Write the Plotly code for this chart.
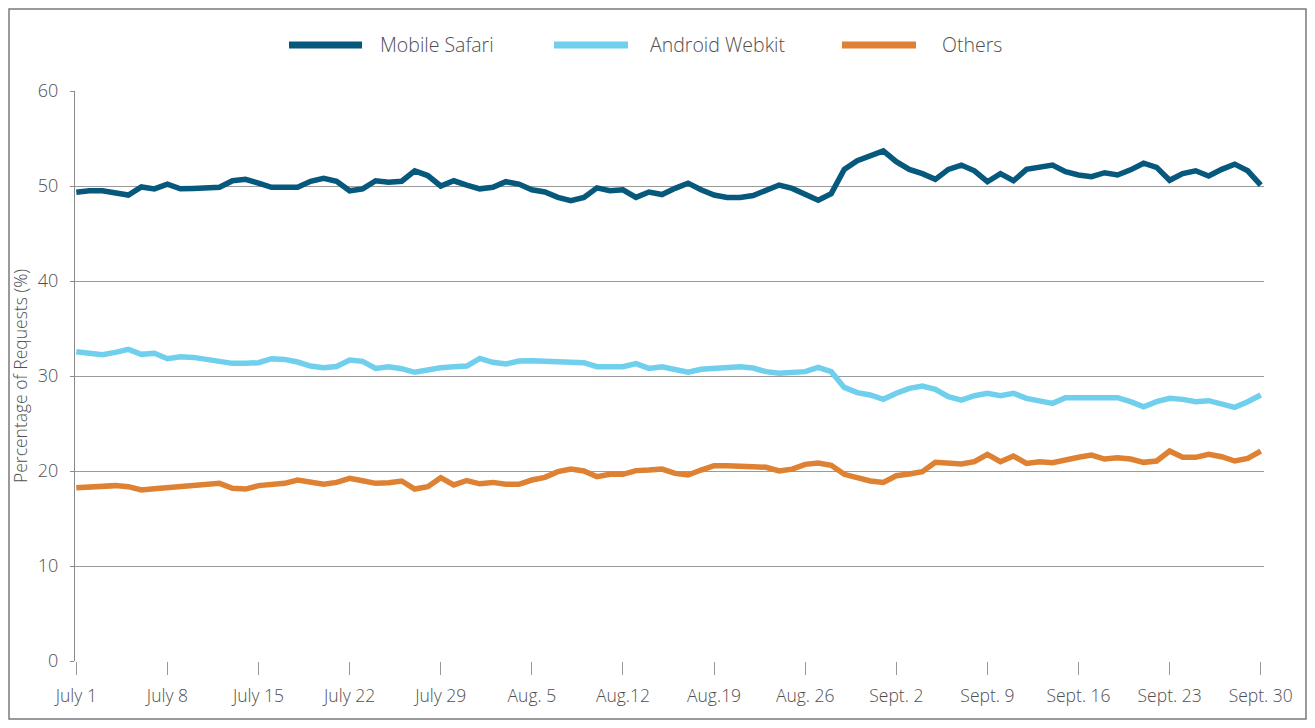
import plotly.graph_objects as go

days = list(range(92))

tick_days = [0, 7, 14, 21, 28, 35, 42, 49, 56, 63, 70, 77, 84, 91]
tick_labels = ["July 1", "July 8", "July 15", "July 22", "July 29", "Aug. 5", "Aug.12",
               "Aug.19", "Aug. 26", "Sept. 2", "Sept. 9", "Sept. 16", "Sept. 23", "Sept. 30"]

mobile_safari = [49.34, 49.5, 49.5, 49.3, 49.05, 49.9, 49.7, 50.2, 49.7, 49.75, 49.8, 49.86,
                 50.55, 50.7, 50.3, 49.86, 49.86, 49.86, 50.5, 50.8, 50.5, 49.5, 49.7, 50.55,
                 50.4, 50.5, 51.6, 51.1, 50.0, 50.55, 50.1, 49.7, 49.86, 50.45, 50.2, 49.6,
                 49.37, 48.8, 48.45, 48.8, 49.8, 49.5, 49.6, 48.8, 49.37, 49.1, 49.75, 50.3,
                 49.6, 49.05, 48.8, 48.8, 49.0, 49.6, 50.1, 49.75, 49.16, 48.5, 49.2, 51.75,
                 52.66, 53.16, 53.7, 52.56, 51.75, 51.3, 50.7, 51.75, 52.2, 51.6, 50.45, 51.3,
                 50.55, 51.75, 51.96, 52.2, 51.5, 51.16, 50.98, 51.4, 51.16, 51.7, 52.4, 51.96,
                 50.6, 51.3, 51.6, 51.05, 51.75, 52.3, 51.6, 50.1]

android_webkit = [32.56, 32.39, 32.25, 32.49, 32.8, 32.28, 32.39, 31.82, 32.03, 31.96, 31.75,
                  31.61, 31.33, 31.33, 31.4, 31.82, 31.75, 31.47, 31.05, 30.88, 31.0, 31.68,
                  31.54, 30.8, 30.98, 30.77, 30.39, 30.63, 30.88, 30.98, 31.05, 31.85, 31.44,
                  31.26, 31.58, 31.61, 31.54, 31.44, 31.44, 31.4, 30.98, 31.05, 30.98, 31.3,
                  30.8, 30.98, 30.63, 30.39, 30.7, 30.8, 30.98, 30.98, 30.84, 30.46, 30.28,
                  30.39, 30.46, 30.9, 30.46, 28.8, 28.25, 28.0, 27.55, 28.18, 28.7, 28.95,
                  28.6, 27.82, 27.47, 27.93, 28.18, 27.93, 28.18, 27.65, 27.37, 27.12, 27.72,
                  27.72, 27.72, 27.65, 27.72, 27.3, 26.77, 27.3, 27.65, 27.54, 27.3, 27.4,
                  27.05, 26.7, 27.3, 28.0]

others = [18.25, 18.35, 18.46, 18.46, 18.35, 18.0, 18.14, 18.25, 18.49, 18.49, 18.7, 18.7,
          18.18, 18.1, 18.46, 18.6, 18.7, 19.05, 18.84, 18.6, 18.8, 19.23, 18.98, 18.7,
          18.77, 18.95, 18.1, 18.35, 19.3, 18.53, 19.0, 18.65, 18.8, 18.6, 18.6, 19.05,
          19.33, 19.93, 20.2, 20.0, 19.4, 19.65, 19.65, 20.04, 20.1, 20.2, 19.75, 19.58,
          20.1, 20.56, 20.56, 20.56, 20.46, 20.39, 20.0, 20.2, 20.7, 20.85, 20.6, 19.65,
          19.25, 18.95, 18.8, 19.5, 19.68, 19.93, 20.91, 20.8, 20.74, 20.98, 21.75, 20.98,
          21.58, 20.8, 20.98, 20.88, 21.09, 21.44, 21.68, 21.26, 21.4, 21.26, 20.91, 21.05,
          22.1, 21.44, 21.44, 21.75, 21.5, 21.05, 21.33, 22.1]

series = [
    ("Mobile Safari", mobile_safari, "#06587D"),
    ("Android Webkit", android_webkit, "#70CFEC"),
    ("Others", others, "#DE8133"),
]

FONT = "'Open Sans', Lato, sans-serif"
TXT = "#505050"

fig = go.Figure()
for name, vals, color in series:
    fig.add_trace(go.Scatter(x=days, y=vals, mode="lines", name=name,
                             line=dict(color=color, width=5.5), showlegend=False))

# plot area in screen px: x 75..1264, y 91..661 (page has an 8px body margin)
def px_x(p):
    return (p - 75) / 1189.0

def px_y(p):
    return (661 - p) / 570.0

shapes = []
annotations = []
legend_items = [("Mobile Safari", "#06587D", 289, 362, 380),
                ("Android Webkit", "#70CFEC", 554, 628, 650),
                ("Others", "#DE8133", 842, 916, 942)]
for name, color, x0, x1, tx in legend_items:
    shapes.append(dict(type="line", xref="paper", yref="paper",
                       x0=px_x(x0), x1=px_x(x1), y0=px_y(45), y1=px_y(45),
                       line=dict(color=color, width=7)))
    annotations.append(dict(xref="paper", yref="paper", x=px_x(tx) - 0.002, y=px_y(45),
                            text=name, showarrow=False, xanchor="left", yanchor="middle",
                            font=dict(family=FONT, size=19.5, color=TXT, weight=300)))

# outer frame
shapes.append(dict(type="rect", xref="paper", yref="paper",
                   x0=px_x(9), x1=px_x(1306), y0=px_y(719), y1=px_y(9),
                   line=dict(color="#7a7a7a", width=1.5), fillcolor="rgba(0,0,0,0)", layer="below"))

fig.update_layout(
    width=1299, height=712,
    margin=dict(l=67, r=43, t=83, b=59),
    paper_bgcolor="white", plot_bgcolor="white",
    font=dict(family=FONT, size=17, color=TXT, weight=300),
    shapes=shapes, annotations=annotations,
    xaxis=dict(range=[-0.1, 91.25], tickmode="array", tickvals=tick_days, ticktext=tick_labels,
               showgrid=False, zeroline=False, showline=False, automargin=False,
               ticks="outside", ticklen=13, tickcolor="#999999", tickwidth=1,
               ticklabelstandoff=6,
               tickfont=dict(family=FONT, size=17.5, color=TXT, weight=300)),
    yaxis=dict(range=[0, 60], tickvals=[0, 10, 20, 30, 40, 50, 60],
               showgrid=True, gridcolor="#9a9a9a", gridwidth=1, automargin=False,
               zeroline=False, showline=True, linecolor="#8a8a8a", linewidth=1,
               ticks="outside", ticklen=4, tickcolor="#8a8a8a",
               ticklabelstandoff=8,
               tickfont=dict(family=FONT, size=18, color=TXT, weight=300),
               title=dict(text="Percentage of Requests (%)", standoff=12,
                          font=dict(family=FONT, size=17.5, color=TXT, weight=300))),
)

fig.write_html("out.html")
